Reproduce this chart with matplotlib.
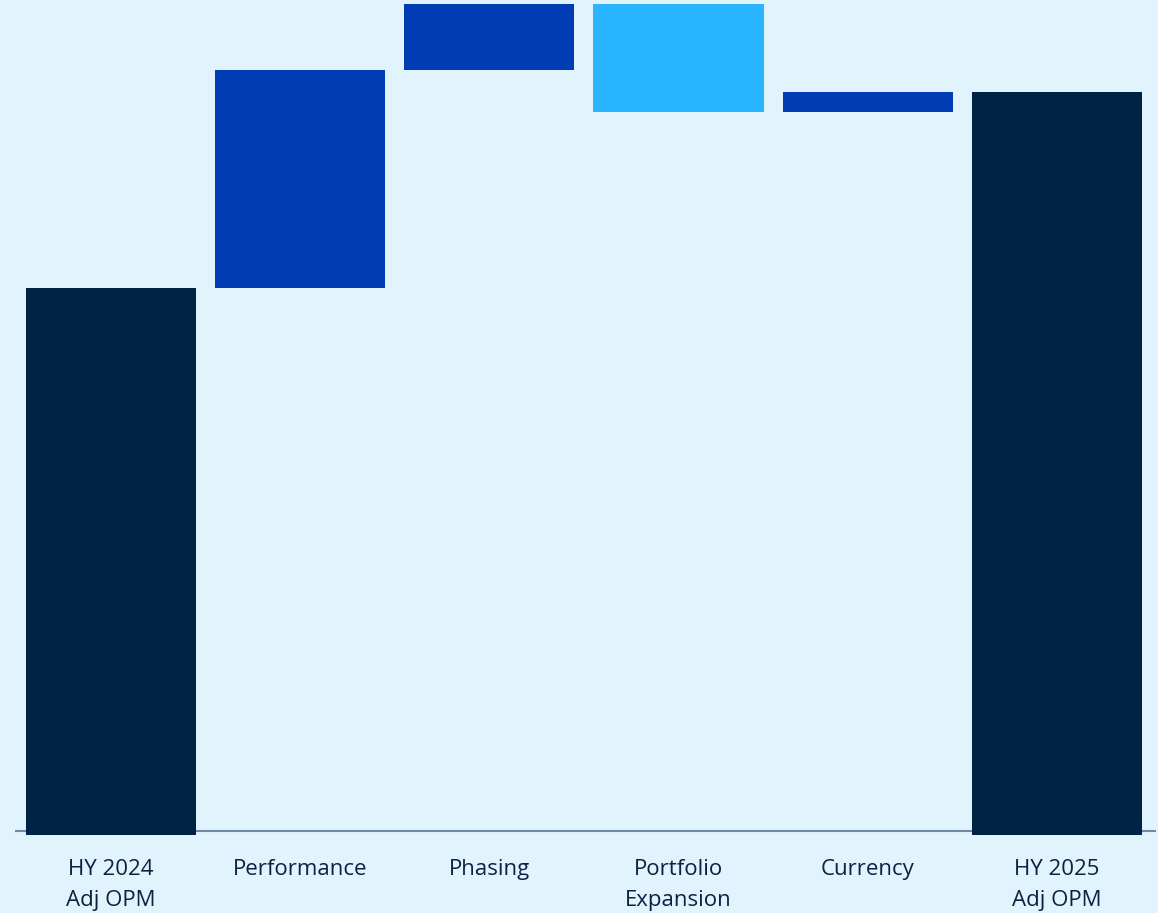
import matplotlib
matplotlib.use("Agg")
import matplotlib.pyplot as plt
import numpy as np

categories = ["HY 2024\nAdj OPM", "Performance", "Phasing", "Portfolio\nExpansion", "Currency", "HY 2025\nAdj OPM"]
start_value = 54.7
changes = [21.8, 6.6, -10.8, 2.0]
end_value = 74.3

BG = "#E1F3FD"
TOTAL = "#002244"
UP = "#003CB4"
DOWN = "#29B5FF"
TEXT = "#0B2341"

plt.rcParams['font.family'] = ['Open Sans', 'DejaVu Sans']

fig = plt.figure(figsize=(11.58, 9.13), dpi=100)
fig.patch.set_facecolor(BG)
W, H = 1158, 913
ax = fig.add_axes([15 / W, (H - 835) / H, (1156 - 15) / W, 835 / H])
ax.set_facecolor(BG)

x = np.arange(len(categories))
bottoms, heights, colors = [], [], []
bottoms.append(0); heights.append(start_value); colors.append(TOTAL)
running = start_value
for c in changes:
    if c >= 0:
        bottoms.append(running); heights.append(c); colors.append(UP)
    else:
        bottoms.append(running + c); heights.append(-c); colors.append(DOWN)
    running += c
bottoms.append(0); heights.append(end_value); colors.append(TOTAL)

ax.bar(x, heights, bottom=bottoms, width=0.9, color=colors, zorder=3)
ax.axhline(0.4, color="#6E8BA6", lw=1.5, zorder=2)

ax.set_xlim(-0.507, 5.524)
ax.set_ylim(0, 83.5)
for s in ax.spines.values():
    s.set_visible(False)
ax.set_yticks([])
ax.set_xticks(x)
ax.set_xticklabels(categories, fontsize=16, color=TEXT, linespacing=1.6)
ax.tick_params(axis='x', length=0, pad=17.5)

fig.savefig("out.png", dpi=100, facecolor=BG)
